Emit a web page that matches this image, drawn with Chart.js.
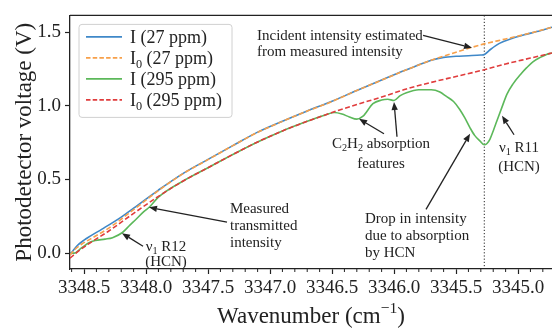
<!DOCTYPE html>
<html lang="en">
<head>
    <meta charset="UTF-8">
    <title>HCN absorption spectrum</title>
    <script src="https://cdn.jsdelivr.net/npm/chart.js"></script>
    <style>
        body { margin: 0; background: #fff; overflow: hidden; }
        canvas { display: block; }
    </style>
</head>
<body>
    <canvas id="spectrumChart" width="552" height="329"></canvas>
    <script>
        // axis ranges and ticks
        const xMin = 3344.726, xMax = 3348.613;
        const yMin = -0.108, yMax = 1.615;
        const xTicks = [3348.5, 3348.0, 3347.5, 3347.0, 3346.5, 3346.0, 3345.5, 3345.0];
        const yTicks = [0.0, 0.5, 1.0, 1.5];
        const lineCentre = 3345.272;   // dotted marker at the R11 line

        // I (27 ppm)
        const wnI27 = [3348.613, 3348.59, 3348.556, 3348.5, 3348.45, 3348.355, 3348.2, 3348.1, 3347.9, 3347.7, 3347.5, 3347.3, 3347.1, 3346.9, 3346.7, 3346.5, 3346.3, 3346.1, 3345.9, 3345.7, 3345.6, 3345.5, 3345.4, 3345.3, 3345.27, 3345.22, 3345.15, 3345.05, 3344.95, 3344.85, 3344.726];
        const vI27 = [-0.01, 0.015, 0.05, 0.088, 0.115, 0.163, 0.245, 0.305, 0.428, 0.542, 0.637, 0.73, 0.822, 0.896, 0.966, 1.032, 1.105, 1.176, 1.245, 1.31, 1.33, 1.337, 1.341, 1.346, 1.35, 1.385, 1.425, 1.458, 1.483, 1.505, 1.535];

        // I0 (27 ppm)
        const wnI0_27 = [3348.613, 3348.58, 3348.52, 3348.45, 3348.3, 3348.1, 3347.9, 3347.7, 3347.5, 3347.3, 3347.1, 3346.9, 3346.7, 3346.5, 3346.3, 3346.1, 3345.9, 3345.7, 3345.5, 3345.3, 3345.1, 3344.9, 3344.726];
        const vI0_27 = [-0.015, 0.02, 0.06, 0.095, 0.17, 0.295, 0.425, 0.54, 0.635, 0.73, 0.82, 0.895, 0.965, 1.03, 1.105, 1.175, 1.245, 1.31, 1.365, 1.415, 1.455, 1.495, 1.535];

        // I (295 ppm)
        const wnI295 = [3348.613, 3348.58, 3348.52, 3348.46, 3348.41, 3348.33, 3348.27, 3348.19, 3348.13, 3348.08, 3348.02, 3347.97, 3347.9, 3347.7, 3347.5, 3347.3, 3347.1, 3346.9, 3346.7, 3346.55, 3346.48, 3346.42, 3346.36, 3346.3, 3346.25, 3346.17, 3346.1, 3346.05, 3346.0, 3345.95, 3345.9, 3345.8, 3345.7, 3345.63, 3345.58, 3345.52, 3345.47, 3345.43, 3345.387, 3345.35, 3345.306, 3345.272, 3345.25, 3345.226, 3345.2, 3345.17, 3345.13, 3345.09, 3345.04, 3344.98, 3344.93, 3344.88, 3344.82, 3344.77, 3344.726];
        const vI295 = [0.0, 0.0, 0.035, 0.07, 0.085, 0.095, 0.105, 0.14, 0.19, 0.23, 0.28, 0.315, 0.38, 0.49, 0.58, 0.67, 0.755, 0.83, 0.895, 0.94, 0.955, 0.945, 0.925, 0.91, 0.93, 1.015, 1.04, 1.045, 1.037, 1.07, 1.09, 1.11, 1.11, 1.095, 1.066, 1.03, 0.976, 0.92, 0.851, 0.80, 0.761, 0.736, 0.745, 0.775, 0.83, 0.899, 0.99, 1.079, 1.15, 1.214, 1.26, 1.30, 1.33, 1.35, 1.36];

        // I0 (295 ppm)
        const wnI0_295 = [3348.613, 3348.55, 3348.45, 3348.3, 3348.1, 3347.9, 3347.7, 3347.5, 3347.3, 3347.1, 3346.9, 3346.7, 3346.5, 3346.3, 3346.1, 3345.9, 3345.7, 3345.5, 3345.3, 3345.1, 3344.9, 3344.726];
        const vI0_295 = [-0.035, 0.01, 0.07, 0.15, 0.27, 0.385, 0.49, 0.58, 0.67, 0.755, 0.83, 0.895, 0.955, 1.01, 1.06, 1.115, 1.16, 1.20, 1.24, 1.285, 1.325, 1.36];

        const FONT = '"Liberation Serif", "DejaVu Serif", serif';
        const pts = (xs, ys) => xs.map((x, i) => ({ x: x, y: ys[i] }));

        const blue = '#3f88c8', orange = '#f7a04a', green = '#5cb85a', red = '#e03c3c';

        // legend rows: [colour, dashed, text parts]
        const legendRows = [
            [blue, false, [['I (27 ppm)', '']]],
            [orange, true, [['I', ''], ['0', 'sub'], [' (27 ppm)', '']]],
            [green, false, [['I (295 ppm)', '']]],
            [red, true, [['I', ''], ['0', 'sub'], [' (295 ppm)', '']]]
        ];

        // annotations in data coordinates
        const notes = [
            { x: 3347.105, y: 1.480, align: 'left', gap: 15.5,
              lines: [[['Incident intensity estimated', '']], [['from measured intensity', '']]],
              arrows: [[3345.766, 1.480, 3345.371, 1.395]] },
            { x: 3346.105, y: 0.750, align: 'center', gap: 20,
              lines: [[['C', ''], ['2', 'sub'], ['H', ''], ['2', 'sub'], [' absorption', '']], [['features', '']]],
              arrows: [[3346.081, 0.811, 3346.282, 0.912], [3345.976, 0.791, 3346.00, 1.027]] },
            { x: 3344.992, y: 0.723, align: 'center', gap: 19,
              lines: [[['\u03bd', ''], ['1', 'sub'], [' R11', '']], [['(HCN)', '']]],
              arrows: [[3345.032, 0.804, 3345.129, 0.933]] },
            { x: 3346.234, y: 0.237, align: 'left', gap: 17,
              lines: [[['Drop in intensity', '']], [['due to absorption', '']], [['by HCN', '']]],
              arrows: [[3345.742, 0.297, 3345.387, 0.811]] },
            { x: 3347.323, y: 0.304, align: 'left', gap: 17,
              lines: [[['Measured', '']], [['transmitted', '']], [['intensity', '']]],
              arrows: [[3347.347, 0.210, 3347.976, 0.311]] },
            { x: 3347.839, y: 0.047, align: 'center', gap: 15,
              lines: [[['\u03bd', ''], ['1', 'sub'], [' R12', '']], [['(HCN)', '']]],
              arrows: [[3348.024, 0.047, 3348.194, 0.135]] }
        ];

        function richText(ctx, parts, x, y, size, align) {
            const segs = parts.map(([t, m]) => {
                const s = m ? size * 0.68 : size;
                ctx.font = s + 'px ' + FONT;
                return { t: t, m: m, s: s, w: ctx.measureText(t).width };
            });
            const total = segs.reduce((a, s) => a + s.w, 0);
            let cx = align === 'center' ? x - total / 2 : x;
            ctx.textAlign = 'left';
            ctx.textBaseline = 'alphabetic';
            segs.forEach(s => {
                ctx.font = s.s + 'px ' + FONT;
                const dy = s.m === 'sub' ? size * 0.22 : s.m === 'sup' ? -size * 0.42 : 0;
                ctx.fillText(s.t, cx, y + dy);
                cx += s.w;
            });
        }

        function arrow(ctx, x1, y1, x2, y2) {
            const a = Math.atan2(y2 - y1, x2 - x1), L = 8, W = 3.2;
            const bx = x2 - L * Math.cos(a), by = y2 - L * Math.sin(a);
            ctx.beginPath();
            ctx.moveTo(x1, y1);
            ctx.lineTo(bx, by);
            ctx.stroke();
            ctx.beginPath();
            ctx.moveTo(x2, y2);
            ctx.lineTo(bx + W * Math.sin(a), by - W * Math.cos(a));
            ctx.lineTo(bx - W * Math.sin(a), by + W * Math.cos(a));
            ctx.closePath();
            ctx.fill();
        }

        const decorations = {
            id: 'decorations',
            beforeDatasetsDraw(chart) {
                const { ctx, chartArea: ca, scales: { x } } = chart;
                const px = x.getPixelForValue(lineCentre);
                ctx.save();
                ctx.strokeStyle = '#222';
                ctx.lineWidth = 1;
                ctx.setLineDash([1.2, 2]);
                ctx.beginPath();
                ctx.moveTo(px, ca.top);
                ctx.lineTo(px, ca.bottom);
                ctx.stroke();
                ctx.restore();
            },
            afterDraw(chart) {
                const { ctx, chartArea: ca, scales: { x, y } } = chart;
                ctx.save();

                // top frame line
                ctx.strokeStyle = '#222';
                ctx.lineWidth = 1.3;
                ctx.beginPath();
                ctx.moveTo(ca.left, ca.top);
                ctx.lineTo(ca.right, ca.top);
                ctx.stroke();

                // minor x ticks every 0.1
                ctx.lineWidth = 1;
                for (let k = 0; k <= 40; k++) {
                    const v = 3344.7 + k * 0.1;
                    if (v < xMin || v > xMax) continue;
                    if (Math.abs(v * 2 - Math.round(v * 2)) < 1e-6) continue;
                    const p = x.getPixelForValue(v);
                    ctx.beginPath();
                    ctx.moveTo(p, ca.bottom);
                    ctx.lineTo(p, ca.bottom + 3);
                    ctx.stroke();
                }

                // legend
                const lx = ca.left + 9, ly = ca.top + 9, lw = 153, lh = 93;
                ctx.fillStyle = 'rgba(255,255,255,0.85)';
                ctx.strokeStyle = '#d0d0d0';
                ctx.lineWidth = 1;
                ctx.beginPath();
                ctx.roundRect(lx, ly, lw, lh, 3);
                ctx.fill();
                ctx.stroke();
                legendRows.forEach(([col, dashed, parts], i) => {
                    const ry = ly + 12.5 + i * 21;
                    ctx.strokeStyle = col;
                    ctx.lineWidth = 1.8;
                    ctx.setLineDash(dashed ? [4.5, 2.2] : []);
                    ctx.beginPath();
                    ctx.moveTo(lx + 7, ry);
                    ctx.lineTo(lx + 43, ry);
                    ctx.stroke();
                    ctx.setLineDash([]);
                    ctx.fillStyle = '#222';
                    richText(ctx, parts, lx + 51, ry + 6.5, 18, 'left');
                });

                // annotations
                ctx.fillStyle = '#222';
                ctx.strokeStyle = '#222';
                ctx.lineWidth = 1.3;
                notes.forEach(n => {
                    const tx = x.getPixelForValue(n.x), ty = y.getPixelForValue(n.y);
                    n.lines.forEach((parts, i) => richText(ctx, parts, tx, ty + 5 + i * n.gap, 15, n.align));
                    n.arrows.forEach(a => arrow(ctx, x.getPixelForValue(a[0]), y.getPixelForValue(a[1]),
                                                x.getPixelForValue(a[2]), y.getPixelForValue(a[3])));
                });

                // axis titles
                ctx.fillStyle = '#222';
                richText(ctx, [['Wavenumber (cm', ''], ['\u22121', 'sup'], [')', '']],
                         (ca.left + ca.right) / 2, 323, 23, 'center');
                ctx.translate(31, (ca.top + ca.bottom) / 2);
                ctx.rotate(-Math.PI / 2);
                richText(ctx, [['Photodetector voltage (V)', '']], 0, 0, 23, 'center');
                ctx.restore();
            }
        };

        Chart.defaults.font.family = FONT;
        Chart.defaults.color = '#222';

        new Chart(document.getElementById('spectrumChart'), {
            type: 'scatter',
            data: {
                datasets: [
                    { label: 'I0 (27 ppm)', data: pts(wnI0_27, vI0_27), borderColor: orange, borderDash: [5, 2.5], order: 0 },
                    { label: 'I (27 ppm)', data: pts(wnI27, vI27), borderColor: blue, order: 1 },
                    { label: 'I0 (295 ppm)', data: pts(wnI0_295, vI0_295), borderColor: red, borderDash: [5, 2.5], order: 2 },
                    { label: 'I (295 ppm)', data: pts(wnI295, vI295), borderColor: green, order: 3 }
                ].map(d => Object.assign(d, {
                    showLine: true, pointRadius: 0, borderWidth: 1.6, cubicInterpolationMode: 'monotone', fill: false
                }))
            },
            options: {
                responsive: false,
                animation: false,
                layout: { padding: { top: 14, right: 0, bottom: 0, left: 0 } },
                plugins: { legend: { display: false }, tooltip: { enabled: false } },
                scales: {
                    x: {
                        type: 'linear', reverse: true, min: xMin, max: xMax,
                        afterFit: s => { s.height = 60; },
                        afterBuildTicks: s => { s.ticks = xTicks.map(v => ({ value: v })); },
                        ticks: { callback: v => v.toFixed(1), font: { size: 19 }, padding: 3, maxRotation: 0, autoSkip: false },
                        grid: { drawOnChartArea: false, tickLength: 5, tickColor: '#222', tickWidth: 1.2 },
                        border: { display: true, color: '#222', width: 1.3 }
                    },
                    y: {
                        min: yMin, max: yMax,
                        afterFit: s => { s.width = 70; },
                        afterBuildTicks: s => { s.ticks = yTicks.map(v => ({ value: v })); },
                        ticks: { callback: v => Math.abs(v).toFixed(1), font: { size: 19 }, padding: 4 },
                        grid: { drawOnChartArea: false, tickLength: 5, tickColor: '#222', tickWidth: 1.2 },
                        border: { display: true, color: '#222', width: 1.3 }
                    }
                }
            },
            plugins: [decorations]
        });
    </script>
</body>
</html>
